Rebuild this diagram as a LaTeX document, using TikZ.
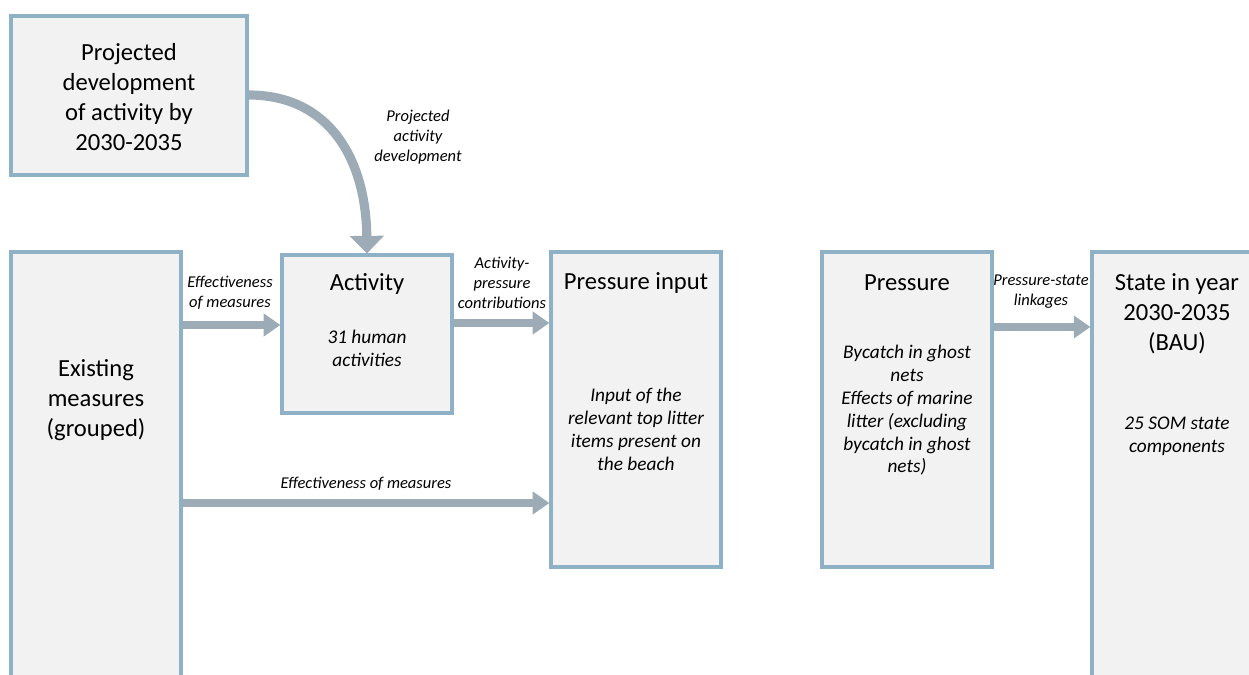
\documentclass[tikz,border=0pt]{standalone}
\usepackage{fontspec}
\setmainfont{Carlito}
\usetikzlibrary{positioning,arrows.meta}

\definecolor{boxline}{HTML}{8FB1C5}
\definecolor{boxfill}{HTML}{F2F2F2}
\definecolor{flowgray}{HTML}{9CABB5}

\tikzset{
  box/.style = {draw=boxline, fill=boxfill, line width=1.8pt, inner sep=0pt},
  title/.style = {align=center, font=\fontsize{14}{17}\selectfont},
  body/.style = {align=center, font=\fontsize{11}{13}\selectfont\itshape},
  note/.style = {align=center, font=\fontsize{9.4}{11.3}\selectfont\itshape},
  flow/.style = {draw=flowgray, line width=4.6pt, -{Triangle[width=12.5pt,length=9.5pt]}},
  bigflow/.style = {draw=flowgray, line width=5.2pt, -{Triangle[width=19pt,length=10pt]}}
}

\begin{document}
\begin{tikzpicture}[x=0.02cm, y=-0.02cm]
  \useasboundingbox (0,0) rectangle (1249,675);
  \clip (0,0) rectangle (1249,675);
  \fill[white] (0,0) rectangle (1249,675);

  % boxes
  \node [box, minimum width=4.72cm, minimum height=3.18cm] (proj) at (129,95.5) {};
  \node [box, minimum width=3.4cm, minimum height=9.36cm] (exist) at (96,486) {};
  \node [box, minimum width=3.4cm, minimum height=3.16cm] (act) at (367,334) {};
  \node [box, minimum width=3.4cm, minimum height=6.3cm] (pin) at (636,409.5) {};
  \node [box, minimum width=3.4cm, minimum height=6.3cm] (pres) at (907,409.5) {};
  \node [box, minimum width=3.4cm, minimum height=9.36cm] (state) at (1177,486) {};

  % texts in the boxes
  \node [title] (proj_t) at (129,97) {Projected\\development\\of activity by\\2030-2035};
  \node [title] (exist_t) at (96,400) {Existing\\measures\\(grouped)};
  \node [title] (act_t) at (367,284) {Activity};
  \node [body] (act_b) at (367,348.5) {31 human\\activities};
  \node [title] (pin_t) at (636,283) {Pressure input};
  \node [body] (pin_b) at (636,429.5) {Input of the\\relevant top litter\\items present on\\the beach};
  \node [title] (pres_t) at (907,283) {Pressure};
  \node [body] (pres_b) at (907,410.5) {Bycatch in ghost\\nets\\Effects of marine\\litter (excluding\\bycatch in ghost\\nets)};
  \node [title] (state_t) at (1177,314) {State in year\\2030-2035\\(BAU)};
  \node [body] (state_b) at (1177,436.5) {25 SOM state\\components};

  % connectors
  \draw [bigflow] (proj.east |- 0,95) .. controls (330,95) and (366,160) .. (act.north);
  \draw [flow] (exist.east |- 0,325) -- (act.west |- 0,325);
  \draw [flow] (act.east |- 0,323) -- (pin.west |- 0,323);
  \draw [flow] (exist.east |- 0,503) -- (pin.west |- 0,503);
  \draw [flow] (pres.east |- 0,327) -- (state.west |- 0,327);

  % connector labels
  \node [note] (proj_n) at (418,137) {Projected\\activity\\development};
  \node [note] (eff_n) at (230,293) {Effectiveness\\of measures};
  \node [note] (apc_n) at (502,283) {Activity-\\pressure\\contributions};
  \node [note] (eff2_n) at (366,484) {Effectiveness of measures};
  \node [note] (psl_n) at (1041,292) {Pressure-state\\linkages};
\end{tikzpicture}
\end{document}
